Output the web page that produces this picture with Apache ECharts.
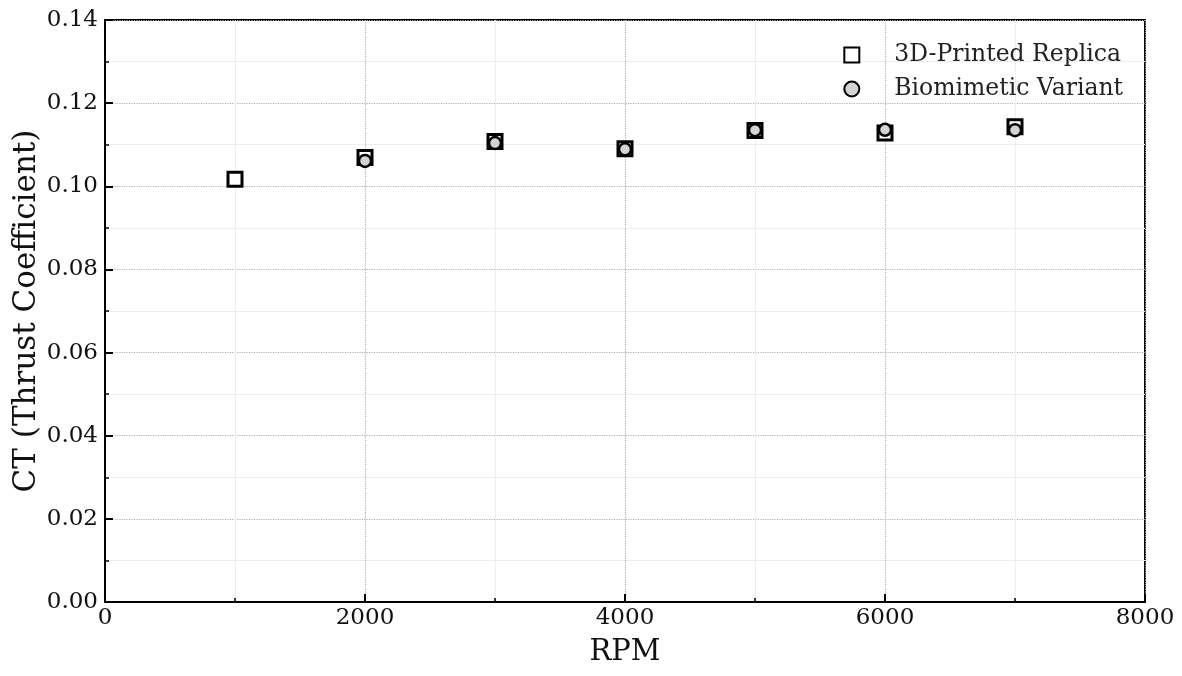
<!DOCTYPE html>
<html>
<head>
<meta charset="utf-8">
<script src="https://cdn.jsdelivr.net/npm/echarts@6/dist/echarts.min.js"></script>
<style>html,body{margin:0;padding:0;background:#fff;}#c{width:1182px;height:676px;}</style>
</head>
<body>
<div id="c"></div>
<script>
const seriesNames = ['3D-Printed Replica', 'Biomimetic Variant'];
const rpmReplica = [1000, 2000, 3000, 4000, 5000, 6000, 7000];
const ctReplica = [0.1017, 0.1069, 0.1108, 0.1090, 0.1134, 0.1128, 0.1143];
const rpmBio = [2000, 3000, 4000, 5000, 6000, 7000];
const ctBio = [0.1061, 0.1104, 0.1089, 0.1135, 0.1136, 0.1135];
const xTicks = [0, 2000, 4000, 6000, 8000];
const yTicks = [0.00, 0.02, 0.04, 0.06, 0.08, 0.10, 0.12, 0.14];

const FONT = 'DejaVu Serif';
const chart = echarts.init(document.getElementById('c'));
chart.setOption({
  animation: false,
  backgroundColor: '#fff',
  grid: { left: 105, right: 37, top: 20, bottom: 74, containLabel: false, outerBoundsMode: 'none',
          show: true, borderColor: '#000', borderWidth: 2, backgroundColor: 'transparent' },
  legend: {
    orient: 'vertical', right: 54, top: 38, itemGap: 10,
    itemWidth: 15, itemHeight: 15,
    textStyle: { fontFamily: FONT, fontSize: 23.5, color: '#222', padding: [0, 0, 0, 30] },
    data: seriesNames
  },
  xAxis: {
    type: 'value', min: xTicks[0], max: xTicks[xTicks.length - 1], interval: 2000,
    name: 'RPM', nameLocation: 'middle', nameGap: 36, nameMoveOverlap: false,
    nameTextStyle: { fontFamily: FONT, fontSize: 29, color: '#111' },
    axisLine: { show: true, lineStyle: { color: '#000', width: 2 } },
    axisTick: { show: true, inside: true, length: 8, lineStyle: { color: '#000', width: 2 } },
    minorTick: { show: true, splitNumber: 2, length: 4, lineStyle: { color: '#000', width: 1.5 } },
    axisLabel: { fontFamily: FONT, fontSize: 23, color: '#111', margin: 5, formatter: v => String(v) },
    splitLine: { show: true, lineStyle: { color: '#b0b0b0', type: 'dotted', width: 1.2 } },
    minorSplitLine: { show: true, lineStyle: { color: '#eeeeee', width: 1 } }
  },
  yAxis: {
    type: 'value', min: yTicks[0], max: yTicks[yTicks.length - 1], interval: 0.02,
    name: 'CT (Thrust Coefficient)', nameLocation: 'middle', nameGap: 63, nameMoveOverlap: false,
    nameTextStyle: { fontFamily: FONT, fontSize: 31, color: '#111' },
    axisLine: { show: true, lineStyle: { color: '#000', width: 2 } },
    axisTick: { show: true, inside: true, length: 8, lineStyle: { color: '#000', width: 2 } },
    minorTick: { show: true, splitNumber: 2, length: 4, lineStyle: { color: '#000', width: 1.5 } },
    axisLabel: { fontFamily: FONT, fontSize: 23, color: '#111', margin: 7, formatter: v => v.toFixed(2) },
    splitLine: { show: true, lineStyle: { color: '#b0b0b0', type: 'dotted', width: 1.2 } },
    minorSplitLine: { show: true, lineStyle: { color: '#eeeeee', width: 1 } }
  },
  series: [
    {
      name: seriesNames[0], type: 'scatter', symbol: 'rect', symbolSize: 14,
      itemStyle: { color: '#fff', borderColor: '#000', borderWidth: 3, opacity: 1 },
      data: rpmReplica.map((x, i) => [x, ctReplica[i]]), z: 3
    },
    {
      name: seriesNames[1], type: 'scatter', symbol: 'circle', symbolSize: 12,
      itemStyle: { color: '#d3d3d3', borderColor: '#000', borderWidth: 2.5, opacity: 1 },
      data: rpmBio.map((x, i) => [x, ctBio[i]]), z: 4
    }
  ]
});
</script>
</body>
</html>
